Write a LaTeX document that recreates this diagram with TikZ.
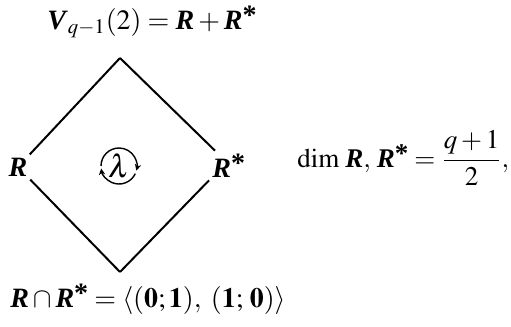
\documentclass[tikz,border=0pt]{standalone}
\usepackage{amsmath,amssymb}
\usepackage{mathptmx}
\usepackage{fontspec}
\setmainfont{Liberation Serif}
\usepackage{tikz}
\usetikzlibrary{arrows.meta,positioning,calc}
\newcommand{\bfR}{\textbf{\textit{R}}}
\newcommand{\bfV}{\textbf{\textit{V}}}
\newcommand{\bfS}{\raisebox{0.35ex}{\textbf{*}}}
\tikzset{
  vtx/.style  = {inner sep=1.5pt, font=\fontsize{14}{16}\selectfont},
  lbl/.style  = {inner sep=0pt, font=\fontsize{14}{16}\selectfont},
  edg/.style  = {line width=1pt, black},
  rot/.style  = {-{Stealth[length=3.2pt,width=3.2pt]}, line width=0.7pt, black},
}

\begin{document}
\begin{tikzpicture}[x=0.5pt,y=-0.5pt]
  \useasboundingbox (0,0) rectangle (511,327);

  % diamond
  \coordinate (top) at (120,58);
  \coordinate (bot) at (120,272);
  \node[vtx] (r)  at (18,167)  {$\bfR$};
  \node[vtx, anchor=base west] (rs) at (209,177) {$\bfR\bfS$};
  \node[vtx, font=\fontsize{16}{18}\selectfont] (lam) at (119,166) {$\lambda$};

  \draw[edg] (top) -- ([xshift=3pt]rs.north west);
  \draw[edg] (top) -- (r);
  \draw[edg] (r) -- (bot);
  \draw[edg] (rs.south west) -- (bot);

  % rotation
  \draw[rot] ([shift={(180:9pt)}]lam.center) arc[start angle=180, end angle=-15, radius=9pt];
  \draw[rot] ([shift={(-25:9pt)}]lam.center) arc[start angle=-25, end angle=-172, radius=9pt];

  % labels
  \node[lbl, anchor=base west] (sum) at (47,29) {$\bfV_{q-1}(2)=\bfR+\bfR\bfS$};
  \node[lbl, anchor=base west, font=\fontsize{13.5}{16}\selectfont] (dim) at (297,167) {$\dim\,\bfR,\,\bfR\bfS=\dfrac{q+1}{2},$};
  \node[lbl, anchor=base west] (cap) at (10,307) {$\bfR\cap\bfR\bfS=\langle(\mathbf{0};\mathbf{1}),\;(\mathbf{1};\,\mathbf{0})\rangle$};
\end{tikzpicture}
\end{document}
